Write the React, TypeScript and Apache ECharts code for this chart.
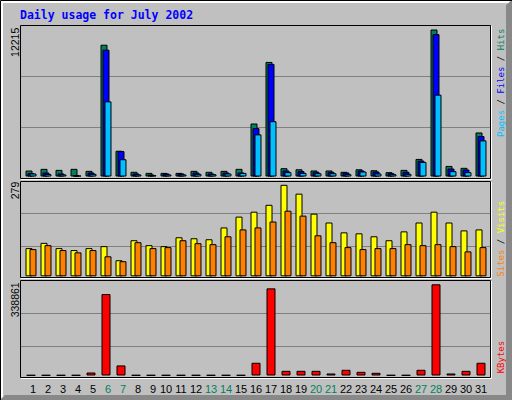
import { useEffect, useRef } from 'react'
import * as echarts from 'echarts'

// 七月每日数据 (webalizer 风格)
const days = ['1', '2', '3', '4', '5', '6', '7', '8', '9', '10', '11', '12', '13', '14', '15', '16',
  '17', '18', '19', '20', '21', '22', '23', '24', '25', '26', '27', '28', '29', '30', '31']
const weekendDays = ['6', '7', '13', '14', '20', '21', '27', '28']

const hits = [495, 635, 550, 635, 470, 10950, 2140, 390, 300, 300, 300, 470, 390, 470, 635, 4405,
  9520, 690, 600, 500, 500, 390, 600, 520, 360, 550, 1460, 12215, 880, 720, 3660]
const files = [290, 330, 250, 100, 330, 10535, 2110, 250, 160, 250, 250, 330, 250, 330, 330, 4020,
  9355, 500, 450, 390, 390, 330, 500, 415, 275, 390, 1320, 11830, 660, 580, 3360]
const pages = [250, 200, 170, 80, 220, 6245, 1435, 170, 110, 170, 170, 220, 190, 250, 300, 3500,
  4595, 360, 300, 275, 275, 190, 415, 250, 190, 220, 1210, 6800, 445, 360, 3000]

const visits = [86, 102, 86, 80, 86, 92, 49, 110, 95, 92, 119, 116, 113, 149, 182, 197,
  218, 279, 252, 191, 164, 134, 131, 122, 110, 137, 164, 197, 164, 140, 143]
const sites = [83, 95, 80, 73, 80, 61, 46, 104, 86, 89, 110, 101, 98, 122, 143, 149,
  167, 200, 185, 125, 104, 89, 83, 86, 86, 98, 95, 98, 92, 76, 89]

const kbytes = [1500, 1500, 1500, 1500, 11200, 302600, 37400, 1500, 1500, 1500, 1500, 1500, 1500, 1500, 1500, 47300,
  323800, 17400, 17400, 17400, 7500, 21200, 13700, 10000, 1500, 1500, 21200, 338861, 7500, 17400, 47300]

const C_HITS = '#00805C'
const C_FILES = '#0000FF'
const C_PAGES = '#00C0FF'
const C_VISITS = '#FFFF00'
const C_SITES = '#FF8000'
const C_KBYTES = '#FF0000'

export default function App() {
  const chartRef = useRef<HTMLDivElement>(null)

  useEffect(() => {
    if (!chartRef.current) return
    document.body.style.margin = '0'
    const chart = echarts.init(chartRef.current, null, { renderer: 'svg' })

    const maxHits = Math.max(...hits)
    const maxVisits = Math.max(...visits)
    const maxKb = Math.max(...kbytes)

    // 每个面板: 网格线框 (box) + 柱子区 (bars)
    const panels = [
      { boxTop: 25, boxH: 153, barTop: 25, barH: 151.5, max: maxHits * 151.5 / 147 },
      { boxTop: 180, boxH: 99, barTop: 181, barH: 95.3, max: maxVisits * 95.3 / 91.5 },
      { boxTop: 280, boxH: 99, barTop: 280, barH: 95.5, max: maxKb * 95.5 / 91.2 },
    ]

    const grids: any[] = []
    const xAxes: any[] = []
    const yAxes: any[] = []
    panels.forEach((p, i) => {
      grids.push({ left: 20, width: 470, top: p.boxTop, height: p.boxH })
      grids.push({ left: 23.5, width: 465, top: p.barTop, height: p.barH })
      xAxes.push({ gridIndex: i * 2, type: 'value', min: 0, max: 1, show: false })
      yAxes.push({
        gridIndex: i * 2, type: 'value', min: 0, max: 3, interval: 1,
        axisLine: { show: false }, axisTick: { show: false }, axisLabel: { show: false },
        splitLine: { show: true, showMinLine: false, showMaxLine: false, lineStyle: { color: '#808080', width: 1 } },
      })
      xAxes.push({
        gridIndex: i * 2 + 1, type: 'category', data: days,
        axisLine: { show: false }, axisTick: { show: false },
        axisLabel: i === 2 ? {
          show: true, margin: 8, interval: 0,
          fontFamily: 'Liberation Sans', fontSize: 11,
          formatter(v: string) {
            const w = weekendDays.includes(v) ? 'w' : 'n'
            return `{${w}${v.length}|${v}}`
          },
          rich: {
            n1: { color: '#000', padding: [0, 0, 0, 4], fontFamily: 'Liberation Sans', fontSize: 11 },
            n2: { color: '#000', fontFamily: 'Liberation Sans', fontSize: 11 },
            w1: { color: C_HITS, padding: [0, 0, 0, 4], fontFamily: 'Liberation Sans', fontSize: 11 },
            w2: { color: C_HITS, fontFamily: 'Liberation Sans', fontSize: 11 },
          },
        } : { show: false },
        splitLine: { show: false },
      })
      yAxes.push({
        gridIndex: i * 2 + 1, type: 'value', min: 0, max: p.max,
        axisLine: { show: false }, axisTick: { show: false }, axisLabel: { show: false },
        splitLine: { show: false },
      })
    })

    const barBase = { type: 'bar', itemStyle: { borderColor: '#000', borderWidth: 1 } }

    // 面板边框: 黑框 + 白色阴影线
    const boxes = [[25, 178], [181, 277], [280, 377]]
    const frameEls: any[] = []
    boxes.forEach(([t, b]) => {
      frameEls.push({
        type: 'rect', z: 100, silent: true,
        shape: { x: 20.5, y: t + 0.5, width: 470, height: b - t },
        style: { fill: 'none', stroke: '#000', lineWidth: 1 },
      })
      frameEls.push({
        type: 'polyline', z: 100, silent: true,
        shape: { points: [[21, b + 1.5], [491.5, b + 1.5], [491.5, t + 1]] },
        style: { fill: 'none', stroke: '#FFF', lineWidth: 1 },
      })
    })

    const vText = (x: number, y: number, text: string, align: string, extra: any = {}) => ({
      type: 'text', z: 100, silent: true, x, y, rotation: Math.PI / 2,
      style: { text, align, verticalAlign: 'middle', ...extra },
    })
    const leftFont = { fontFamily: 'Liberation Sans', fontSize: 10.5, fill: '#000' }
    const rightFont = { fontFamily: 'DejaVu Sans Mono', fontSize: 9, fill: '#000' }

    const option: echarts.EChartsOption = {
      animation: false,
      backgroundColor: '#C0C0C0',
      grid: grids,
      xAxis: xAxes,
      yAxis: yAxes,
      series: [
        { ...barBase, name: 'Hits', xAxisIndex: 1, yAxisIndex: 1, data: hits, barWidth: 7, barGap: '-71.43%', itemStyle: { ...barBase.itemStyle, color: C_HITS } },
        { ...barBase, name: 'Files', xAxisIndex: 1, yAxisIndex: 1, data: files, barWidth: 7, barGap: '-71.43%', itemStyle: { ...barBase.itemStyle, color: C_FILES } },
        { ...barBase, name: 'Pages', xAxisIndex: 1, yAxisIndex: 1, data: pages, barWidth: 7, barGap: '-71.43%', itemStyle: { ...barBase.itemStyle, color: C_PAGES } },
        { ...barBase, name: 'Visits', xAxisIndex: 3, yAxisIndex: 3, data: visits, barWidth: 7, barGap: '-42.86%', itemStyle: { ...barBase.itemStyle, color: C_VISITS } },
        { ...barBase, name: 'Sites', xAxisIndex: 3, yAxisIndex: 3, data: sites, barWidth: 7, barGap: '-42.86%', itemStyle: { ...barBase.itemStyle, color: C_SITES } },
        { ...barBase, name: 'KBytes', xAxisIndex: 5, yAxisIndex: 5, data: kbytes, barWidth: 9, itemStyle: { ...barBase.itemStyle, color: C_KBYTES } },
      ] as any,
      graphic: [
        // 外框立体效果
        { type: 'polygon', silent: true, z: 90, shape: { points: [[0, 0], [512, 0], [509, 3], [3, 3], [3, 397], [0, 400]] }, style: { fill: '#FFF' } },
        { type: 'polygon', silent: true, z: 91, shape: { points: [[512, 0], [512, 400], [0, 400], [5, 395], [506, 395], [506, 5]] }, style: { fill: '#888' } },
        { type: 'polyline', silent: true, z: 92, shape: { points: [[0.5, 400], [0.5, 0.5], [512, 0.5]] }, style: { fill: 'none', stroke: '#000', lineWidth: 1 } },
        ...frameEls,
        {
          type: 'text', z: 100, silent: true, x: 20, y: 15,
          style: { text: 'Daily usage for July 2002', fontFamily: 'DejaVu Sans Mono', fontWeight: 'bold', fontSize: 11.5, fill: '#0000FF', verticalAlign: 'middle' },
        },
        vText(15, 27.7, String(maxHits), 'right', leftFont),
        vText(15, 181.7, String(maxVisits), 'right', leftFont),
        vText(15, 282.3, String(maxKb), 'right', leftFont),
        vText(501, 137, '{p|Pages} / {f|Files} / {h|Hits}', 'left', {
          ...rightFont,
          rich: { p: { ...rightFont, fill: C_PAGES }, f: { ...rightFont, fill: C_FILES }, h: { ...rightFont, fill: C_HITS } },
        }),
        vText(501, 276.7, '{s|Sites} / {v|Visits}', 'left', {
          ...rightFont,
          rich: { s: { ...rightFont, fill: C_SITES }, v: { ...rightFont, fill: C_VISITS } },
        }),
        vText(501, 373.3, 'KBytes', 'left', { ...rightFont, fill: C_KBYTES }),
      ],
    }

    chart.setOption(option)
    return () => {
      chart.dispose()
    }
  }, [])

  return <div ref={chartRef} style={{ width: 512, height: 400 }} />
}
